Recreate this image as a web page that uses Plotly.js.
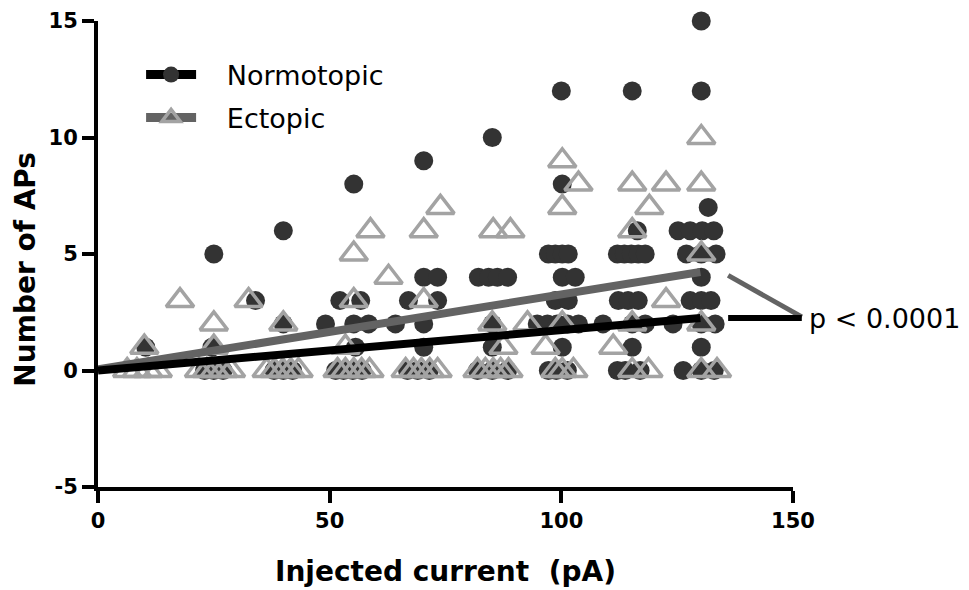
<!DOCTYPE html>
<html>
<head>
<meta charset="utf-8">
<script src="https://cdn.plot.ly/plotly-3.0.1.min.js"></script>
<style>html,body{margin:0;padding:0;background:#fff;}#chart{width:969px;height:590px;}</style>
</head>
<body>
<div id="chart"></div>
<script>
// Normotopic (filled circles): injected current (pA, as drawn with horizontal spread) and number of APs
const normX = [
  10.3,
  25, 24.6, 23, 25, 27,
  40, 34, 40, 38, 40, 42,
  55.2, 52.2, 56.7, 49.1, 55.2, 58.4, 55.6, 51.3, 53, 55, 57,
  70.3, 70.3, 73.3, 67, 73.3, 64.2, 70.3, 70.3, 66.8, 69, 71.5,
  85.1, 82.1, 84.3, 86.2, 88.4, 85.1, 85.1, 81.9, 85.1, 88.4,
  100, 100.2, 97.2, 98.7, 100.2, 101.5, 100.2, 103, 98.7, 101.5, 94.8, 97, 99.1, 101.3, 103.7, 100.2, 97.2, 98.9, 101.3,
  115.3, 116.4, 112.1, 113.6, 115.1, 116.6, 118.1, 112.3, 114.4, 116.6, 109, 115.3, 118.1, 124.1, 115.3, 112.1, 113.8, 117,
  130.2, 130.2, 131.7, 125.2, 127.8, 130.4, 132.9, 127, 130.2, 133.4, 130.2, 127.8, 130.2, 132.3, 130.2, 133.2, 130.2, 126.3, 130.2, 133
];
const normY = [
  1,
  5, 1, 0, 0, 0,
  6, 3, 2, 0, 0, 0,
  8, 3, 3, 2, 2, 2, 1, 0, 0, 0, 0,
  9, 4, 4, 3, 3, 2, 2, 1, 0, 0, 0,
  10, 4, 4, 4, 4, 2, 1, 0, 0, 0,
  12, 8, 5, 5, 5, 5, 4, 4, 3, 3, 2, 2, 2, 2, 2, 1, 0, 0, 0,
  12, 6, 5, 5, 5, 5, 5, 3, 3, 3, 2, 2, 2, 2, 1, 0, 0, 0,
  15, 12, 7, 6, 6, 6, 6, 5, 5, 5, 4, 3, 3, 3, 2, 2, 1, 0, 0, 0
];
// Ectopic (open triangles)
const ectX = [
  6.3, 8.4, 10.8, 12.9, 10, 17.7,
  25, 25, 21.8, 23.5, 25.2, 27, 28.7,
  32.5, 40, 36.4, 38.1, 39.9, 41.6, 43.3,
  58.8, 55.2, 62.7, 55.2, 53.4, 51.7, 53.4, 55.2, 56.9, 58.6,
  70.3, 73.9, 70.3, 66.4, 68.1, 69.8, 71.6, 73.3,
  85.3, 89, 85.1, 92.7, 87.5, 81.9, 83.6, 85.3, 86.9, 88.6,
  100.2, 103.7, 100.2, 100.2, 96.6, 98.7, 100.2, 102.6,
  115.3, 122.6, 119, 115.3, 122.6, 115.3, 111.2, 115.3, 118.8,
  130.2, 130.2, 130.2, 130.2, 130.2, 133.6
];
const ectY = [
  0, 0, 0, 0, 1, 3,
  2, 1, 0, 0, 0, 0, 0,
  3, 2, 0, 0, 0, 0, 0,
  6, 5, 4, 3, 1, 0, 0, 0, 0, 0,
  6, 7, 3, 0, 0, 0, 0, 0,
  6, 6, 2, 2, 1, 0, 0, 0, 0, 0,
  9, 8, 7, 2, 1, 0, 0, 0,
  8, 8, 7, 6, 3, 2, 1, 0, 0,
  10, 8, 5, 2, 0, 0
];
// Linear fits
const fitX = [0, 130];
const normFit = [0, 2.25];
const ectFit = [0.05, 4.23];
// Axis ticks
const xTicks = [0, 50, 100, 150];
const xTickLabels = ['0', '50', '100', '150'];
const yTicks = [-5, 0, 5, 10, 15];
const yTickLabels = ['-5', '0', '5', '10', '15'];
const seriesNames = ['Normotopic', 'Ectopic'];
const pLabel = 'p < 0.0001';
const xTitle = 'Injected current\u00a0 (pA)';
const yTitle = 'Number of APs';

const X0 = 0, X1 = 150, Y0 = -5, Y1 = 15;
const px = v => (v - X0) / (X1 - X0);
const py = v => (v - Y0) / (Y1 - Y0);

const FONT = 'DejaVu Sans';
const DARK = '#333333';
const TRI = '#a3a3a3';
const GREYLINE = '#636363';
const GAP = '\u00a0\u00a0\u00a0';

const circleMarker = {symbol: 'circle', size: 19, color: DARK, line: {width: 0}};
const triMarker = {symbol: 'triangle-up-open', size: 24, color: TRI, line: {width: 3.5, color: TRI}};

const traces = [
  {x: normX, y: normY, type: 'scatter', mode: 'markers', marker: circleMarker, showlegend: false, cliponaxis: false},
  {x: ectX, y: ectY, type: 'scatter', mode: 'markers', marker: triMarker, showlegend: false, cliponaxis: false},
  {x: fitX, y: ectFit, type: 'scatter', mode: 'lines', line: {color: GREYLINE, width: 8}, showlegend: false},
  {x: fitX, y: normFit, type: 'scatter', mode: 'lines', line: {color: '#000', width: 8}, showlegend: false},
  {x: [null], y: [null], type: 'scatter', mode: 'lines+markers', name: GAP + seriesNames[0],
   line: {color: '#000', width: 9}, marker: circleMarker, legend: 'legend'},
  {x: [null], y: [null], type: 'scatter', mode: 'lines+markers', name: GAP + seriesNames[1],
   line: {color: GREYLINE, width: 9}, marker: triMarker, legend: 'legend2'}
];

const bx0 = 136, bx1 = 151.9;
const layout = {
  width: 969, height: 590,
  margin: {l: 98, r: 176, t: 21, b: 103},
  paper_bgcolor: '#fff', plot_bgcolor: '#fff',
  font: {family: FONT, color: '#000'},
  xaxis: {
    range: [X0, X1], tickvals: xTicks, ticktext: xTickLabels,
    showgrid: false, zeroline: false, showline: true, linecolor: '#000', linewidth: 4,
    ticks: 'outside', ticklen: 12, tickwidth: 4, tickcolor: '#000',
    tickfont: {family: FONT, size: 21, weight: 'bold', color: '#000'},
    title: {text: xTitle, font: {family: FONT, size: 28, weight: 'bold', color: '#000'}, standoff: 30}
  },
  yaxis: {
    range: [Y0, Y1], tickvals: yTicks, ticktext: yTickLabels,
    showgrid: false, zeroline: false, showline: true, linecolor: '#000', linewidth: 4,
    ticks: 'outside', ticklen: 12, tickwidth: 4, tickcolor: '#000',
    tickfont: {family: FONT, size: 21, weight: 'bold', color: '#000'}
  },
  legend: {x: 0.062, y: 0.884, xanchor: 'left', yanchor: 'middle', bgcolor: 'rgba(0,0,0,0)',
           font: {family: FONT, size: 27, color: '#000'}, itemwidth: 50},
  legend2: {x: 0.062, y: 0.792, xanchor: 'left', yanchor: 'middle', bgcolor: 'rgba(0,0,0,0)',
            font: {family: FONT, size: 27, color: '#000'}, itemwidth: 50},
  shapes: [
    {type: 'line', xref: 'paper', yref: 'paper', x0: px(bx0), y0: py(ectFit[1] - 0.15), x1: px(bx1), y1: py(normFit[1] + 0.05),
     line: {color: GREYLINE, width: 5}},
    {type: 'line', xref: 'paper', yref: 'paper', x0: px(bx0), y0: py(normFit[1]), x1: px(bx1), y1: py(normFit[1]),
     line: {color: '#000', width: 6}}
  ],
  annotations: [
    {text: pLabel, xref: 'paper', yref: 'paper', x: px(bx1 + 1.2), y: py(normFit[1]), xanchor: 'left', yanchor: 'middle',
     showarrow: false, font: {family: FONT, size: 27, color: '#000'}},
    {text: yTitle, xref: 'paper', yref: 'paper', x: -0.104, y: 0.468, xanchor: 'center', yanchor: 'middle',
     textangle: -90, showarrow: false, font: {family: FONT, size: 28, weight: 'bold', color: '#000'}}
  ]
};

Plotly.newPlot('chart', traces, layout, {displayModeBar: false, staticPlot: true});
</script>
</body>
</html>
